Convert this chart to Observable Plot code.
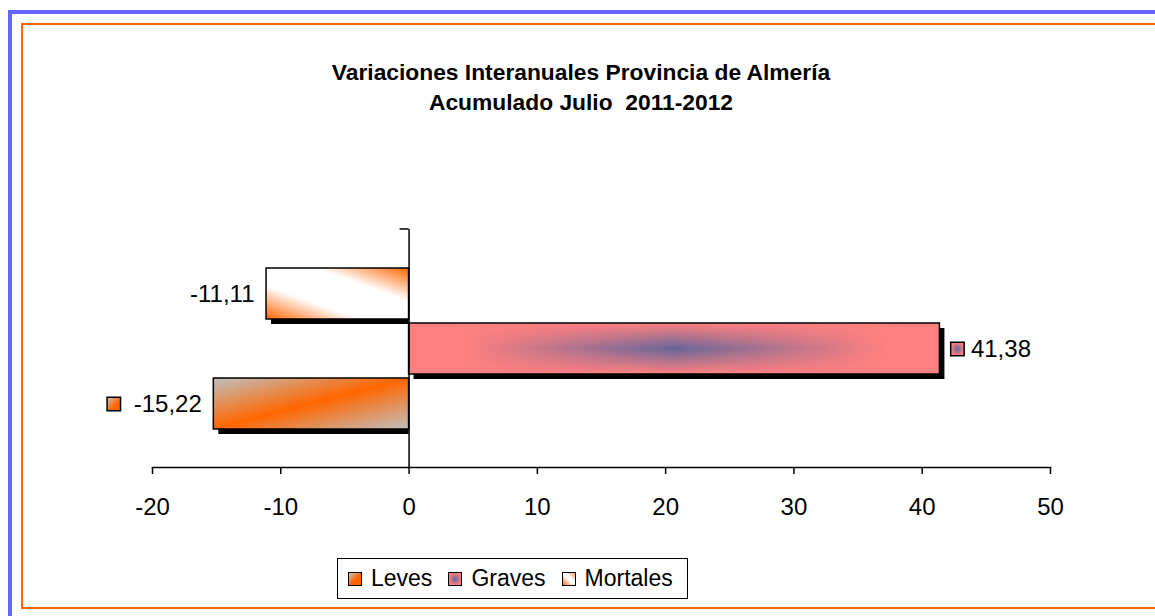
<!DOCTYPE html>
<html>
<head>
<meta charset="utf-8">
<script src="https://cdn.jsdelivr.net/npm/d3@7"></script>
<script src="https://cdn.jsdelivr.net/npm/@observablehq/plot@0.6"></script>
<style>
  html, body { margin: 0; padding: 0; background: #fff; }
  body { width: 1155px; height: 616px; overflow: hidden; position: relative;
         font-family: Arial, "Liberation Sans", sans-serif; color: #000; }
  #blue { position: absolute; left: 8px; top: 10px; width: 2000px; height: 2000px;
          border-left: 4px solid #6666ff; border-top: 4px solid #6666ff; }
  #orange { position: absolute; left: 21px; top: 23px; width: 2000px; height: 582px;
            border: 2px solid #ff6600; border-right: none; }
  #title { position: absolute; left: 0; top: 57px; width: 1162px; text-align: center;
           font-weight: bold; font-size: 22.8px; line-height: 30px; white-space: pre; }
  #chart { position: absolute; left: 0; top: 0; }
  #legend { position: absolute; left: 337px; top: 558px; box-sizing: border-box; height: 41px;
            border: 1.5px solid #000; display: flex; align-items: center; padding: 0 14px 0 10px;
            font-size: 23px; background: #fff; }
  .item { display: flex; align-items: center; margin-right: 16px; }
  .item:last-child { margin-right: 0; }
  .key { width: 14px; height: 14px; box-sizing: border-box; border: 1.5px solid #000; margin-right: 9px; }
</style>
</head>
<body>
<div id="blue"></div>
<div id="orange"></div>
<div id="title"></div>
<div id="chart"></div>
<div id="legend"></div>
<script>
// ---- data ----
const series = ["Leves", "Graves", "Mortales"];
const values = [-15.22, 41.38, -11.11];
const xTicks = [-20, -10, 0, 10, 20, 30, 40, 50];
const xDomain = [-20, 50];
const titleLines = ["Variaciones Interanuales Provincia de Almería", "Acumulado Julio  2011-2012"];

const data = series.map((s, i) => ({series: s, value: values[i]}));
const fmt = v => v.toFixed(2).replace(".", ",");
const neg = data.filter(d => d.value < 0);
const pos = data.filter(d => d.value >= 0);

const fillOf = {Leves: "url(#gLeves)", Graves: "url(#gGravesH)", Mortales: "url(#gMortales)"};
const keyCss = {
  Leves: "linear-gradient(135deg, #c8c8c8 0%, #ff6600 55%, #ff6600 100%)",
  Graves: "radial-gradient(circle, #666699 0%, #ff8080 75%)",
  Mortales: "linear-gradient(45deg, #ff6600 0%, #ffffff 45%, #ffffff 60%, #ff9966 100%)"
};

document.getElementById("title").textContent = titleLines.join("\n");

function extras(index, scales, values, dims) {
  const ns = "http://www.w3.org/2000/svg";
  const g = document.createElementNS(ns, "g");
  g.innerHTML = `
    <defs>
      <linearGradient id="gLeves" x1="0" y1="0" x2="1" y2="1">
        <stop offset="0" stop-color="#c0c0c0"/>
        <stop offset="0.5" stop-color="#ff6600"/>
        <stop offset="1" stop-color="#c0c0c0"/>
      </linearGradient>
      <linearGradient id="gMortales" x1="0" y1="1" x2="1" y2="0">
        <stop offset="0" stop-color="#ff6600"/>
        <stop offset="0.33" stop-color="#ffffff"/>
        <stop offset="0.67" stop-color="#ffffff"/>
        <stop offset="1" stop-color="#ff6600"/>
      </linearGradient>
      <linearGradient id="gGravesH" x1="0" y1="0" x2="1" y2="0">
        <stop offset="0" stop-color="#ff8080"/>
        <stop offset="0.1" stop-color="#ff8080"/>
        <stop offset="0.5" stop-color="#666699"/>
        <stop offset="0.9" stop-color="#ff8080"/>
        <stop offset="1" stop-color="#ff8080"/>
      </linearGradient>
      <linearGradient id="gGravesV" x1="0" y1="0" x2="0" y2="1">
        <stop offset="0" stop-color="#ff8080" stop-opacity="1"/>
        <stop offset="0.5" stop-color="#ff8080" stop-opacity="0"/>
        <stop offset="1" stop-color="#ff8080" stop-opacity="1"/>
      </linearGradient>
      <radialGradient id="gGravesKey" cx="0.5" cy="0.5" r="0.5">
        <stop offset="0" stop-color="#666699"/>
        <stop offset="1" stop-color="#ff8080"/>
      </radialGradient>
      <linearGradient id="gLevesKey" x1="0" y1="0" x2="1" y2="1">
        <stop offset="0" stop-color="#c8c8c8"/>
        <stop offset="0.6" stop-color="#ff6600"/>
        <stop offset="1" stop-color="#ff6600"/>
      </linearGradient>
    </defs>`;
  // small category-axis tick at the top of the vertical axis
  const x0 = scales.x(0);
  const t = document.createElementNS(ns, "line");
  t.setAttribute("x1", x0 - 9);
  t.setAttribute("x2", x0);
  t.setAttribute("y1", dims.marginTop);
  t.setAttribute("y2", dims.marginTop);
  t.setAttribute("stroke", "#000");
  t.setAttribute("stroke-width", 1.5);
  g.appendChild(t);
  return g;
}

const chart = Plot.plot({
  width: 1155,
  height: 540,
  marginLeft: 152,
  marginRight: 105,
  marginTop: 229,
  marginBottom: 73,
  style: {fontFamily: "Arial, 'Liberation Sans', sans-serif", fontSize: "24px", background: "transparent", color: "#000", overflow: "visible"},
  x: {domain: xDomain},
  y: {domain: series.slice().reverse(), paddingInner: 0.08, paddingOuter: 0.67, align: 0.5, axis: null},
  color: {type: "identity"},
  marks: [
    // shadows
    Plot.barX(neg, {x1: "value", x2: 0, y: "series", fill: "#000", dy: 5, insetLeft: 5}),
    Plot.barX(pos, {x: "value", y: "series", fill: "#000", dx: 5, dy: 5}),
    // gradient fills
    Plot.barX(data, {x: "value", y: "series", fill: d => fillOf[d.series]}),
    Plot.barX(pos, {x: "value", y: "series", fill: "url(#gGravesV)"}),
    // outlines
    Plot.barX(data, {x: "value", y: "series", fill: "none", stroke: "#000", strokeWidth: 1.5}),
    // axes
    Plot.ruleX([0], {stroke: "#000", strokeWidth: 1.5}),
    Plot.frame({anchor: "bottom", stroke: "#000", strokeWidth: 1.5}),
    Plot.axisX(xTicks, {tickFormat: d => String(d), tickSize: 7, tickPadding: 23, strokeWidth: 1.5, fontSize: 24, label: null}),
    // data labels
    Plot.text(neg, {x: "value", y: "series", text: d => fmt(d.value), textAnchor: "end", dx: -12, fontSize: 24, fill: "#000"}),
    Plot.text(pos, {x: "value", y: "series", text: d => fmt(d.value), textAnchor: "start", dx: 31, fontSize: 24, fill: "#000"}),
    Plot.dot(data.filter(d => d.series === "Leves"), {x: "value", y: "series", symbol: "square", r: 7.6, dx: -100, fill: "url(#gLevesKey)", stroke: "#000", strokeWidth: 1.5}),
    Plot.dot(pos, {x: "value", y: "series", symbol: "square", r: 7.6, dx: 17.5, fill: "url(#gGravesKey)", stroke: "#000", strokeWidth: 1.5}),
    extras
  ]
});
document.getElementById("chart").appendChild(chart);

// legend
const legend = document.getElementById("legend");
series.forEach(s => {
  const item = document.createElement("div");
  item.className = "item";
  const key = document.createElement("div");
  key.className = "key";
  key.style.background = keyCss[s];
  const label = document.createElement("span");
  label.textContent = s;
  item.appendChild(key);
  item.appendChild(label);
  legend.appendChild(item);
});
</script>
</body>
</html>
